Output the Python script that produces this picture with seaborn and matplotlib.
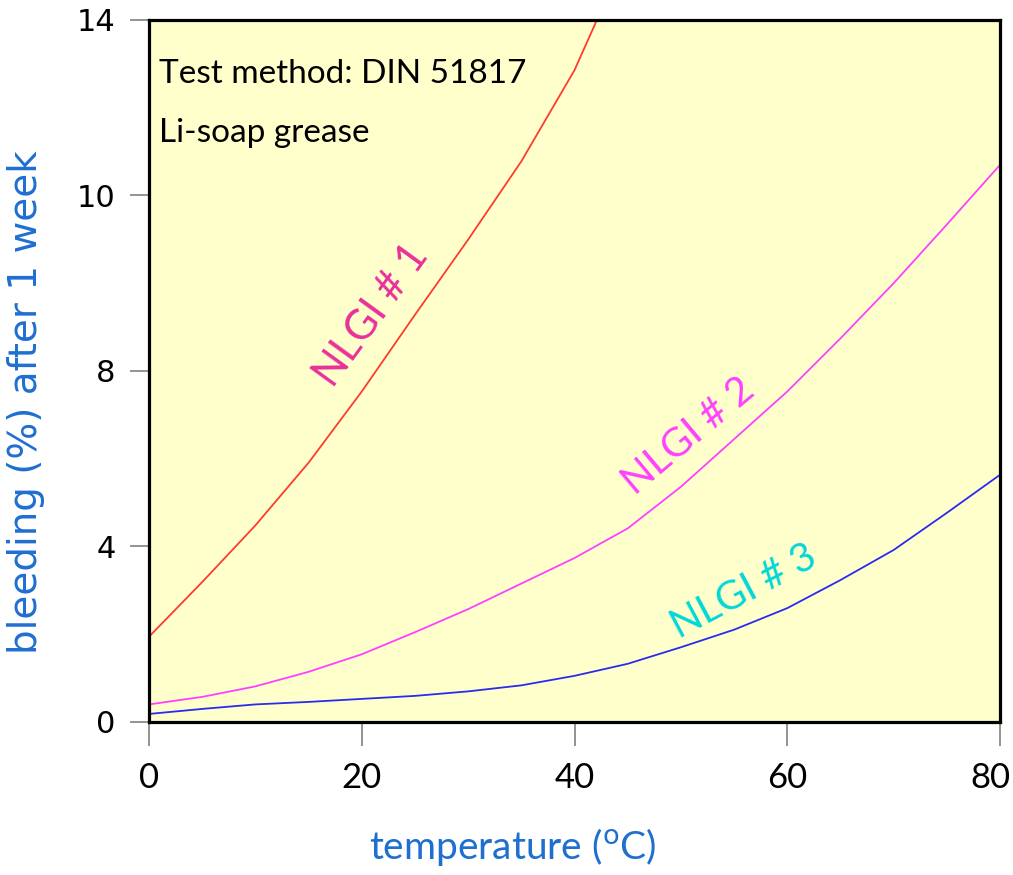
import matplotlib
matplotlib.use("Agg")
import matplotlib.pyplot as plt
import matplotlib.transforms as mtransforms
import numpy as np
import pandas as pd
import seaborn as sns

# ---- data ----
temps_1 = [0, 5, 10, 15, 20, 25, 30, 35, 40, 42]
nlgi_1 = [1.70, 2.79, 3.92, 5.17, 6.59, 8.12, 9.62, 11.18, 13.0, 13.95]

temps = [0, 5, 10, 15, 20, 25, 30, 35, 40, 45, 50, 55, 60, 65, 70, 75, 80]
nlgi_2 = [0.35, 0.50, 0.71, 1.00, 1.35, 1.79, 2.25, 2.76, 3.27, 3.86, 4.69,
          5.64, 6.59, 7.65, 8.75, 9.92, 11.11]
nlgi_3 = [0.16, 0.26, 0.35, 0.40, 0.46, 0.52, 0.61, 0.73, 0.92, 1.16, 1.49,
          1.84, 2.27, 2.83, 3.43, 4.17, 4.93]

grades = ["NLGI # 1", "NLGI # 2", "NLGI # 3"]
x_ticks = [0, 20, 40, 60, 80]
y_tick_pos = [0, 3.5, 7, 10.5, 14]
y_tick_labels = ["0", "4", "8", "10", "14"]

line_colors = {"NLGI # 1": "#FF3B30", "NLGI # 2": "#FF40FF", "NLGI # 3": "#2A2AF0"}
label_colors = {"NLGI # 1": "#E8309A", "NLGI # 2": "#FF40FF", "NLGI # 3": "#00D8D8"}

df = pd.concat([
    pd.DataFrame({"temperature": temps_1, "bleeding": nlgi_1, "grade": grades[0]}),
    pd.DataFrame({"temperature": temps, "bleeding": nlgi_2, "grade": grades[1]}),
    pd.DataFrame({"temperature": temps, "bleeding": nlgi_3, "grade": grades[2]}),
], ignore_index=True)

sns.set_style("ticks")
plt.rcParams["font.family"] = ["Lato", "DejaVu Sans"]

fig = plt.figure(figsize=(10.13, 8.75), dpi=100)
ax = fig.add_axes([0.1471, 0.1749, 0.8401, 0.8023])
ax.set_facecolor("#FFFFCC")

sns.lineplot(data=df, x="temperature", y="bleeding", hue="grade",
             palette=line_colors, linewidth=1.3, legend=False, ax=ax,
             sort=False, estimator=None)

ax.set_xlim(0, 80)
ax.set_ylim(0, 14)
ax.set_xticks(x_ticks)
ax.set_xticklabels([str(t) for t in x_ticks], fontsize=25, family="Lato")
ax.set_yticks(y_tick_pos)
ax.set_yticklabels(y_tick_labels, fontsize=22, family="DejaVu Sans")

for s in ax.spines.values():
    s.set_visible(True)
    s.set_color("black")
    s.set_linewidth(2.3)

ax.tick_params(axis="y", direction="out", length=14, width=1.2, color="#808080",
               pad=10, labelcolor="black")
ax.tick_params(axis="x", direction="out", length=17, width=1.2, color="#808080",
               pad=12, labelcolor="black")

# nudge the last x tick label slightly left so it stays inside the figure
last = ax.get_xticklabels()[-1]
last.set_transform(last.get_transform() +
                   mtransforms.ScaledTranslation(-10 / 100, 0, fig.dpi_scale_trans))

ax.set_xlabel("temperature ($^{\\mathrm{o}}$C)", fontsize=28, color="#1F6FD1",
              family="Lato")
ax.xaxis.set_label_coords(0.428, -0.148)
ax.set_ylabel("bleeding (%) after 1 week", fontsize=28, color="#1F6FD1",
              family="DejaVu Sans")
ax.yaxis.set_label_coords(-0.122, 0.455)

ax.text(0.94, 12.92, "Test method: DIN 51817", fontsize=24, color="black",
        va="center", ha="left", family="Lato")
ax.text(0.94, 11.75, "Li-soap grease", fontsize=24, color="black",
        va="center", ha="left", family="Lato")

ax.text(20.9, 8.1, "NLGI # 1", fontsize=30, color=label_colors["NLGI # 1"],
        rotation=54, ha="center", va="center", rotation_mode="anchor")
ax.text(50.7, 5.7, "NLGI # 2", fontsize=29, color=label_colors["NLGI # 2"],
        rotation=40, ha="center", va="center", rotation_mode="anchor")
ax.text(55.9, 2.6, "NLGI # 3", fontsize=29, color=label_colors["NLGI # 3"],
        rotation=28, ha="center", va="center", rotation_mode="anchor")

fig.savefig("out.png", dpi=100, facecolor="white")
